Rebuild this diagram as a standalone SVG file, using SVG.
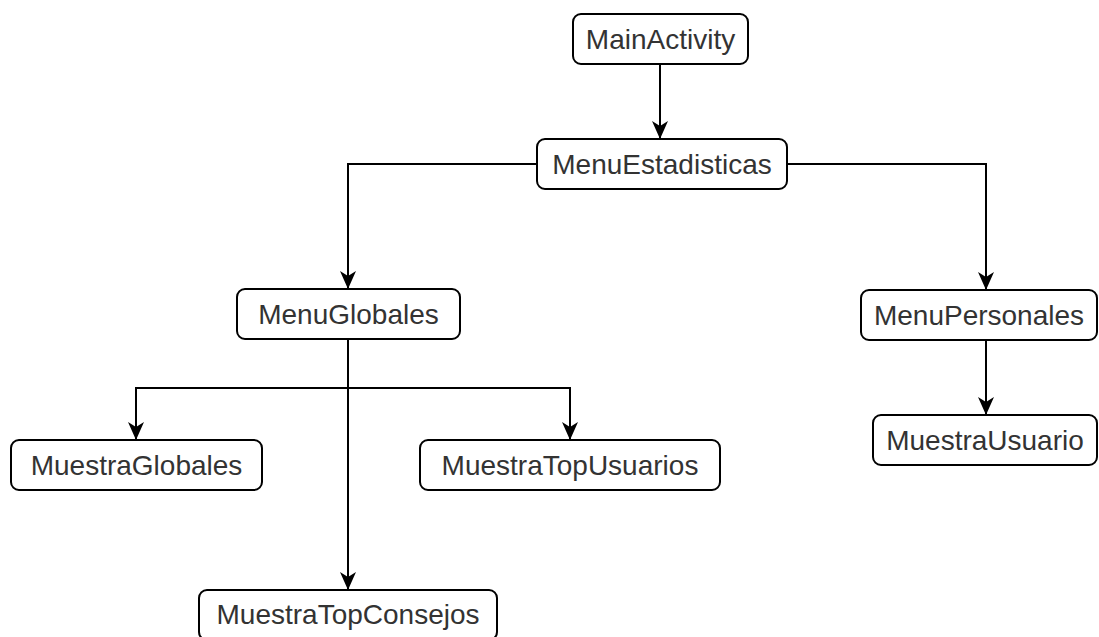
<svg xmlns="http://www.w3.org/2000/svg" width="1099" height="637" viewBox="0 0 1099 637">
<style>
.box{fill:#fff;stroke:#000;stroke-width:2}
.lbl{font-family:"Liberation Sans",Arial,sans-serif;font-size:28px;fill:#333;text-anchor:middle;dominant-baseline:central}
.edge{fill:none;stroke:#000;stroke-width:2}
</style>
<defs>
<marker id="arr" markerUnits="userSpaceOnUse" markerWidth="20" markerHeight="18" refX="17" refY="9" orient="auto">
<path d="M0,1 L18,9 L0,17 L5,9 z" fill="#000"/>
</marker>
</defs>
<rect width="1099" height="637" fill="#fff"/>
<g id="connectors">
<path class="edge" d="M660,64 L660,138" marker-end="url(#arr)"/>
<path class="edge" d="M537,164 L348,164 L348,288" marker-end="url(#arr)"/>
<path class="edge" d="M787,164 L986,164 L986,289" marker-end="url(#arr)"/>
<path class="edge" d="M348,339 L348,589" marker-end="url(#arr)"/>
<path class="edge" d="M348,388 L136,388 L136,439" marker-end="url(#arr)"/>
<path class="edge" d="M348,388 L570,388 L570,439" marker-end="url(#arr)"/>
<path class="edge" d="M986,340 L986,414" marker-end="url(#arr)"/>
</g>
<g id="MainActivity"><rect class="box" x="573" y="14" width="175" height="50" rx="8"/><text class="lbl" x="660.5" y="39">MainActivity</text></g>
<g id="MenuEstadisticas"><rect class="box" x="537" y="139" width="250" height="50" rx="8"/><text class="lbl" x="662" y="164">MenuEstadisticas</text></g>
<g id="MenuGlobales"><rect class="box" x="237" y="289" width="223" height="50" rx="8"/><text class="lbl" x="348.5" y="314">MenuGlobales</text></g>
<g id="MenuPersonales"><rect class="box" x="861" y="290" width="236" height="50" rx="8"/><text class="lbl" x="979" y="315">MenuPersonales</text></g>
<g id="MuestraGlobales"><rect class="box" x="11" y="440" width="251" height="50" rx="8"/><text class="lbl" x="136.5" y="465">MuestraGlobales</text></g>
<g id="MuestraTopUsuarios"><rect class="box" x="420" y="440" width="300" height="50" rx="8"/><text class="lbl" x="570" y="465">MuestraTopUsuarios</text></g>
<g id="MuestraUsuario"><rect class="box" x="873" y="415" width="224" height="50" rx="8"/><text class="lbl" x="985" y="440">MuestraUsuario</text></g>
<g id="MuestraTopConsejos"><rect class="box" x="199" y="590" width="298" height="50" rx="8"/><text class="lbl" x="348" y="614">MuestraTopConsejos</text></g>
</svg>
